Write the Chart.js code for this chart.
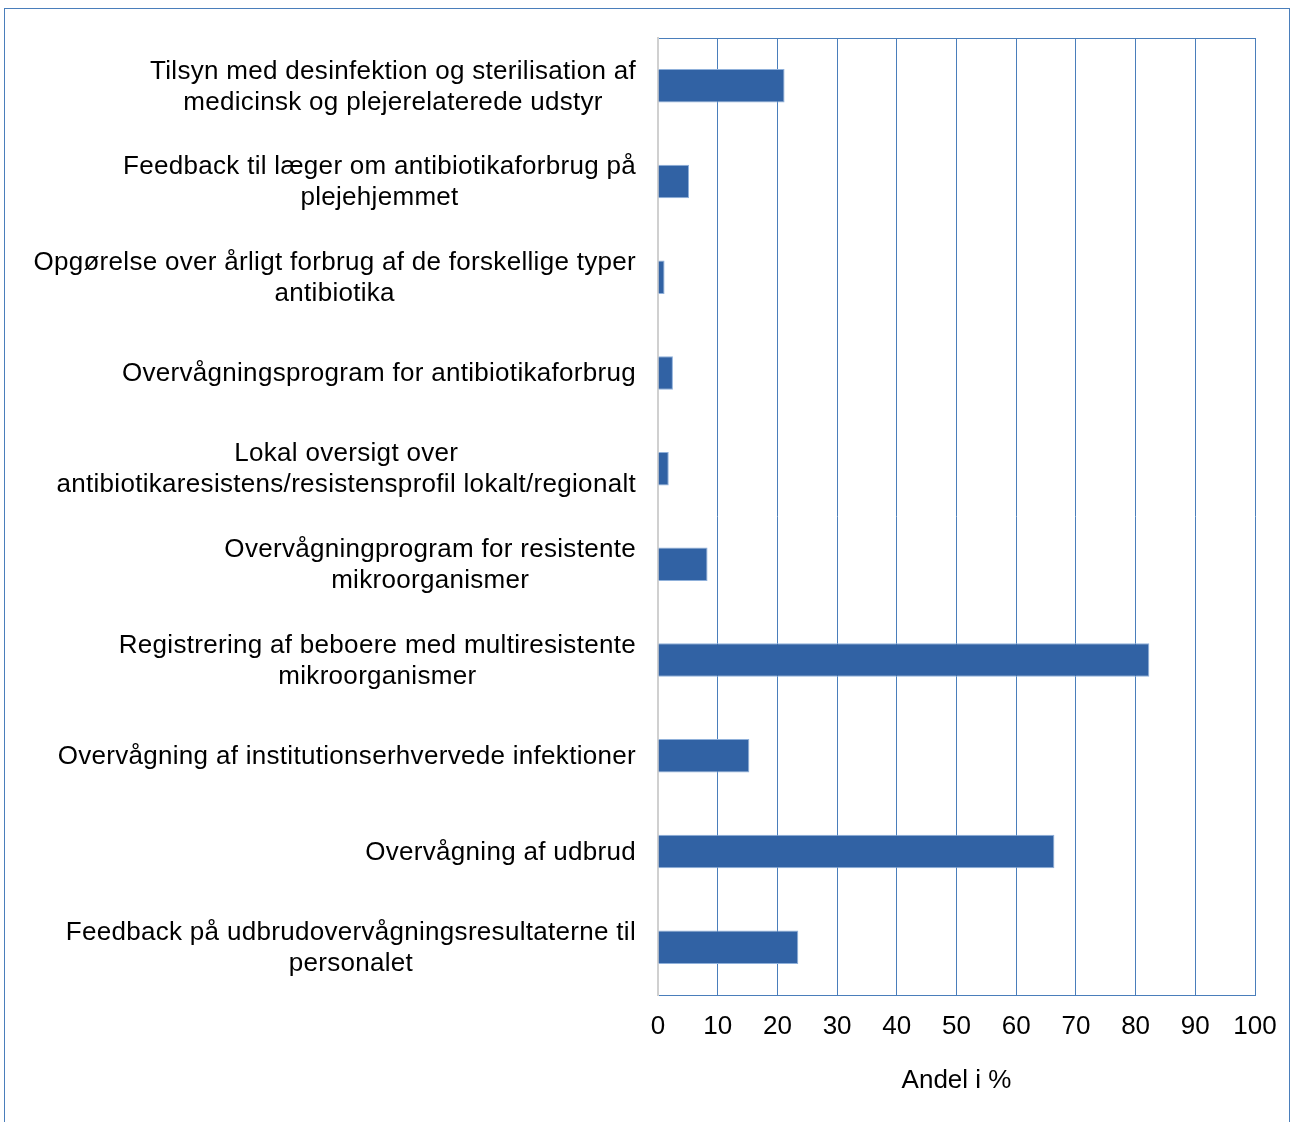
<!DOCTYPE html>
<html>
<head>
<meta charset="utf-8">
<script src="https://cdn.jsdelivr.net/npm/chart.js@4"></script>
<style>
  html, body { margin: 0; padding: 0; background: #fff; overflow: hidden; }
  #cadre { position: absolute; left: 4px; top: 8px; width: 1286px; height: 1114px; border: 1px solid #4a7ebb; border-bottom: none; box-sizing: border-box; }
  #boite { position: absolute; left: 0; top: 0; width: 1290px; height: 1122px; }
</style>
</head>
<body>
<div id="cadre"></div>
<div id="boite"><canvas id="graf"></canvas></div>
<script>
// --- données ---
const kategorier = [
  ['Tilsyn med desinfektion og sterilisation af', 'medicinsk og plejerelaterede udstyr'],
  ['Feedback til læger om antibiotikaforbrug på', 'plejehjemmet'],
  ['Opgørelse over årligt forbrug af de forskellige typer', 'antibiotika'],
  'Overvågningsprogram for antibiotikaforbrug',
  ['Lokal oversigt over', 'antibiotikaresistens/resistensprofil lokalt/regionalt'],
  ['Overvågningprogram for resistente', 'mikroorganismer'],
  ['Registrering af beboere med multiresistente', 'mikroorganismer'],
  'Overvågning af institutionserhvervede infektioner',
  'Overvågning af udbrud',
  ['Feedback på udbrudovervågningsresultaterne til', 'personalet']
];
const andele = [21.2, 5.2, 1.1, 2.5, 1.8, 8.3, 82.3, 15.3, 66.4, 23.5];
const akseTitel = 'Andel i %';

const bla = '#4a7ebb';
const familie = "'Liberation Sans', Arial, sans-serif";
const font = { family: familie, size: 26 };

// etiketter på y-aksen: centrerede linjer, højrestillet blok (som i Excel)
const etiketPlugin = {
  id: 'etiketter',
  afterDraw(chart) {
    const y = chart.scales.y, c = chart.ctx;
    const hojre = chart.chartArea.left - 22;
    c.save();
    c.font = '26px ' + familie;
    c.fillStyle = '#000';
    c.textAlign = 'center';
    c.textBaseline = 'middle';
    c.letterSpacing = '0.3px';
    kategorier.forEach((lab, i) => {
      const linjer = Array.isArray(lab) ? lab : [lab];
      const bredde = Math.max(...linjer.map(l => c.measureText(l).width));
      const cx = hojre - bredde / 2;
      const yc = y.getPixelForValue(i) + 1;
      linjer.forEach((l, j) => c.fillText(l, cx, yc + (j - (linjer.length - 1) / 2) * 31));
    });
    c.restore();
  }
};

const ctx = document.getElementById('graf').getContext('2d');
const graf = new Chart(ctx, {
  type: 'bar',
  data: {
    labels: kategorier,
    datasets: [{
      data: andele,
      backgroundColor: '#3162a4',
      borderColor: '#8fb0da',
      borderWidth: 1,
      borderSkipped: 'start',
      barPercentage: 0.35,
      categoryPercentage: 1
    }]
  },
  options: {
    indexAxis: 'y',
    responsive: true,
    maintainAspectRatio: false,
    animation: false,
    layout: { padding: { top: 38, right: 35, left: 0, bottom: 0 } },
    plugins: { legend: { display: false }, tooltip: { enabled: false } },
    scales: {
      x: {
        min: 0, max: 100,
        ticks: { stepSize: 10, color: '#000', font: font, padding: 16, maxRotation: 0 },
        grid: { color: bla, lineWidth: 1, drawTicks: false },
        border: { color: bla, width: 1 },
        title: { display: true, text: akseTitel, color: '#000', font: font, padding: { top: 0, bottom: 26 } },
        afterFit: s => { s.height = 127; s.paddingRight = 0; s.paddingLeft = 0; }
      },
      y: {
        ticks: { display: false },
        grid: {
          drawTicks: false,
          color: c => c.index === 0 ? bla : 'rgba(0,0,0,0)',
          lineWidth: 1
        },
        border: { color: '#d0d0d0', width: 2 },
        afterFit: s => { s.width = 658; }
      }
    }
  },
  plugins: [etiketPlugin]
});
</script>
</body>
</html>
